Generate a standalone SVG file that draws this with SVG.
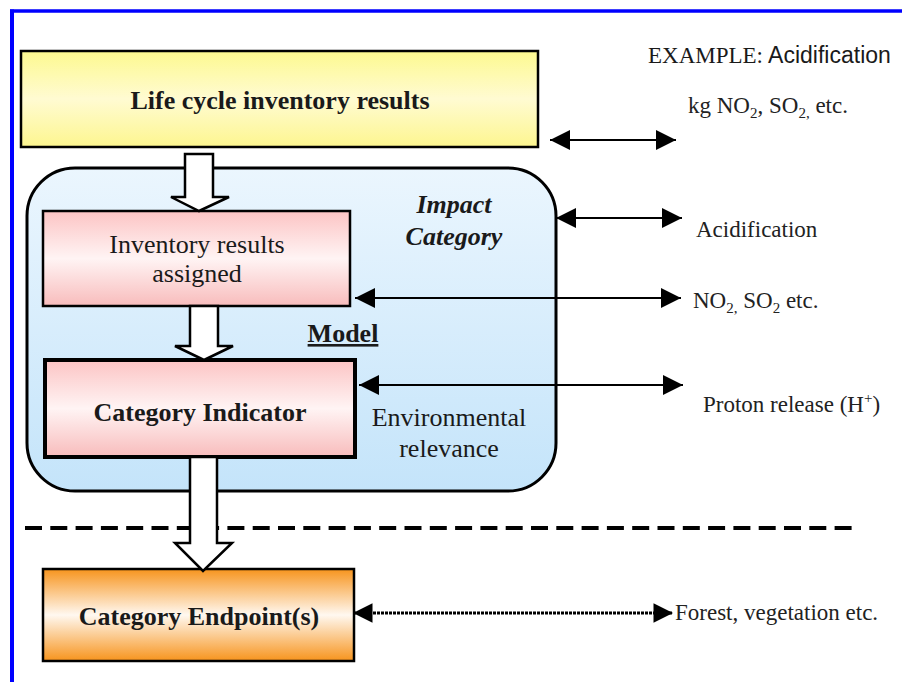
<svg xmlns="http://www.w3.org/2000/svg" width="902" height="682" viewBox="0 0 902 682">
<defs>
  <linearGradient id="gYellow" x1="0" y1="0" x2="0" y2="1">
    <stop offset="0" stop-color="#fdf98f"/>
    <stop offset="0.5" stop-color="#fffbd2"/>
    <stop offset="1" stop-color="#fdf68f"/>
  </linearGradient>
  <linearGradient id="gPink" x1="0" y1="0" x2="0" y2="1">
    <stop offset="0" stop-color="#fcc4c4"/>
    <stop offset="0.5" stop-color="#fff4f4"/>
    <stop offset="1" stop-color="#f8bcbc"/>
  </linearGradient>
  <linearGradient id="gBlue" x1="0" y1="0" x2="0" y2="1">
    <stop offset="0" stop-color="#ebf6fe"/>
    <stop offset="1" stop-color="#c4e4fa"/>
  </linearGradient>
  <linearGradient id="gOrange" x1="0" y1="0" x2="0" y2="1">
    <stop offset="0" stop-color="#f7941d"/>
    <stop offset="0.5" stop-color="#fff8f0"/>
    <stop offset="1" stop-color="#f7941d"/>
  </linearGradient>
  <marker id="ah" viewBox="0 0 10 10" refX="10" refY="5" markerWidth="10.5" markerHeight="10" markerUnits="strokeWidth" orient="auto-start-reverse">
    <path d="M0,0 L10,5 L0,10 z" fill="#000"/>
  </marker>
  <marker id="ah2" viewBox="0 0 10 10" refX="10" refY="5" markerWidth="7" markerHeight="6.5" markerUnits="strokeWidth" orient="auto-start-reverse">
    <path d="M0,0 L10,5 L0,10 z" fill="#000"/>
  </marker>
</defs>
<style>
  .serif { font-family: "Liberation Serif", "Times New Roman", serif; fill: #1a1a1a; }
  .sans { font-family: "Liberation Sans", Arial, sans-serif; fill: #1a1a1a; }
  .bold { font-weight: bold; }
  .lbl { font-size: 26px; }
  .side { font-size: 23px; fill: #222; }
  .box { stroke: #000; stroke-width: 2.5; }
  .block { fill: #fff; stroke: #000; stroke-width: 2.5; stroke-linejoin: miter; }
  .conn { stroke: #000; stroke-width: 2; fill: none; marker-start: url(#ah); marker-end: url(#ah); }
  .conn-dot { stroke: #000; stroke-width: 3; fill: none; stroke-dasharray: 3 1; marker-start: url(#ah2); marker-end: url(#ah2); }
</style>

<!-- frame -->
<g id="frame">
  <line x1="10" y1="11" x2="902" y2="11" stroke="#0000ff" stroke-width="3.5"/>
  <line x1="12" y1="9.5" x2="12" y2="682" stroke="#0000ff" stroke-width="4"/>
</g>

<!-- impact category container -->
<g id="impact-category">
  <rect x="27" y="168" width="529" height="323" rx="48" ry="48" fill="url(#gBlue)" stroke="#000" stroke-width="3"/>
  <text class="serif bold lbl" x="454" y="213" text-anchor="middle" font-style="italic">Impact</text>
  <text class="serif bold lbl" x="454" y="245" text-anchor="middle" font-style="italic">Category</text>
</g>

<g id="lci-results">
  <rect class="box" x="21" y="51" width="517" height="96" fill="url(#gYellow)"/>
  <text class="serif bold lbl" x="280" y="109" text-anchor="middle">Life cycle inventory results</text>
</g>

<g id="inventory-assigned">
  <rect class="box" x="43" y="211" width="307" height="95" fill="url(#gPink)"/>
  <text class="serif lbl" x="197" y="253" text-anchor="middle">Inventory results</text>
  <text class="serif lbl" x="197" y="282" text-anchor="middle">assigned</text>
</g>

<g id="category-indicator">
  <rect x="45" y="360" width="310" height="97" fill="url(#gPink)" stroke="#000" stroke-width="4"/>
  <text class="serif bold lbl" x="200" y="421" text-anchor="middle">Category Indicator</text>
</g>

<g id="model-label">
  <text class="serif bold lbl" x="343" y="342" text-anchor="middle" text-decoration="underline">Model</text>
</g>

<g id="env-relevance">
  <text class="serif lbl" x="449" y="426" text-anchor="middle">Environmental</text>
  <text class="serif lbl" x="449" y="457" text-anchor="middle">relevance</text>
</g>

<!-- dashed separator -->
<g id="separator">
  <line x1="25" y1="528" x2="852" y2="528" stroke="#000" stroke-width="4" stroke-dasharray="17 8.3"/>
</g>

<g id="category-endpoint">
  <rect class="box" x="43" y="569" width="311" height="92" fill="url(#gOrange)"/>
  <text class="serif bold lbl" x="199" y="625" text-anchor="middle">Category Endpoint(s)</text>
</g>

<!-- connectors -->
<g id="connectors">
  <!-- block arrows -->
  <polygon class="block" points="185,154 213,154 213,197 229,197 199,211 171,197 185,197"/>
  <polygon class="block" points="190,306 218,306 218,346 233,346 204,360 175,346 190,346"/>
  <polygon class="block" points="190,457 217,457 217,543 232,543 203,571 175,543 190,543"/>

  <!-- double arrows -->
  <line class="conn" x1="550" y1="140" x2="676" y2="140"/>
  <line class="conn" x1="556" y1="218" x2="682" y2="218"/>
  <line class="conn" x1="355" y1="298" x2="681" y2="298"/>
  <line class="conn" x1="359" y1="385" x2="683" y2="385"/>
  <line class="conn-dot" x1="353" y1="613" x2="673" y2="613"/>
</g>

<!-- example texts -->
<g id="example-texts">
  <text x="648" y="63" class="side"><tspan class="serif">EXAMPLE:</tspan><tspan class="sans"> Acidification</tspan></text>
  <text class="serif side" x="688" y="113">kg NO<tspan font-size="15" dy="5">2</tspan><tspan dy="-5">, SO</tspan><tspan font-size="15" dy="5">2,</tspan><tspan dy="-5"> etc.</tspan></text>
  <text class="serif side" x="696" y="237">Acidification</text>
  <text class="serif side" x="693" y="308">NO<tspan font-size="15" dy="5">2,</tspan><tspan dy="-5"> SO</tspan><tspan font-size="15" dy="5">2</tspan><tspan dy="-5"> etc.</tspan></text>
  <text class="serif side" x="703" y="412">Proton release (H<tspan font-size="15" dy="-9">+</tspan><tspan dy="9">)</tspan></text>
  <text class="serif side" x="675" y="620">Forest, vegetation etc.</text>
</g>
</svg>
